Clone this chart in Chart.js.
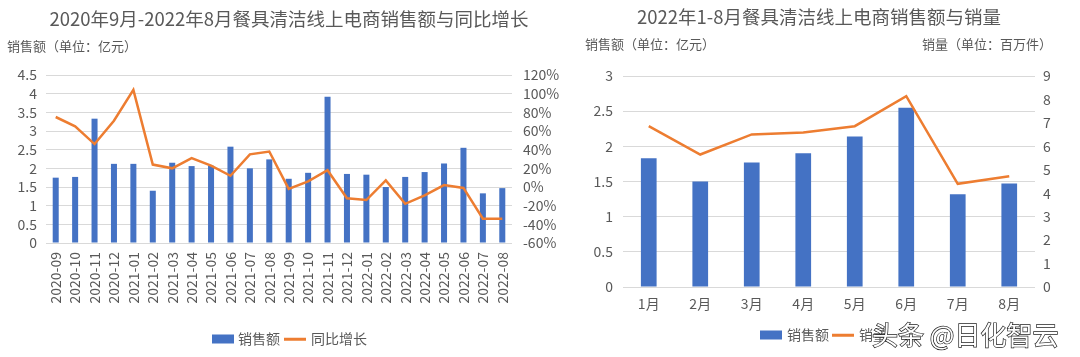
<!DOCTYPE html>
<html>
<head>
<meta charset="utf-8">
<script src="https://cdn.jsdelivr.net/npm/chart.js@4.4.1/dist/chart.umd.min.js"></script>
<style>
  html, body { margin:0; padding:0; background:#fff; }
  body { width:1080px; height:357px; overflow:hidden; position:relative;
         font-family:'Noto Sans CJK SC','Microsoft YaHei',sans-serif; color:#595959; }
  .abs { position:absolute; white-space:nowrap; }
  .title { font-size:18.5px; transform:translate(-50%,-50%); }
  .axt { font-size:13px; transform:translateY(-50%); }
  .leg { font-size:14px; transform:translateY(-50%); }
  .box { position:absolute; width:22px; height:9px; background:#4472C4; transform:translateY(-50%); }
  .ln { position:absolute; width:22px; height:2.5px; background:#ED7D31; transform:translateY(-50%); }
  .wm { font-size:26px; color:#fff; -webkit-text-stroke:1.4px #222; paint-order:stroke fill; transform:translateY(-50%); }
</style>
</head>
<body>
<div class="abs" style="left:0;top:0;width:560px;height:357px;"><canvas id="c1" width="560" height="357"></canvas></div>
<div class="abs" style="left:560px;top:0;width:520px;height:357px;"><canvas id="c2" width="520" height="357"></canvas></div>

<div class="abs title" style="left:289px;top:18px;">2020年9月-2022年8月餐具清洁线上电商销售额与同比增长</div>
<div class="abs axt" style="left:7px;top:45px;">销售额（单位：亿元）</div>
<div class="box" style="left:212px;top:339px;"></div>
<div class="abs leg" style="left:238px;top:338px;">销售额</div>
<div class="ln" style="left:284px;top:339px;"></div>
<div class="abs leg" style="left:311px;top:338px;">同比增长</div>

<div class="abs title" style="left:819px;top:16px;">2022年1-8月餐具清洁线上电商销售额与销量</div>
<div class="abs axt" style="left:585px;top:43px;">销售额（单位：亿元）</div>
<div class="abs axt" style="left:922px;top:43px;">销量（单位：百万件）</div>
<div class="box" style="left:760px;top:335px;"></div>
<div class="abs leg" style="left:787px;top:334px;">销售额</div>
<div class="ln" style="left:832px;top:335px;"></div>
<div class="abs leg" style="left:859px;top:334px;">销量</div>
<div class="abs wm" style="left:872px;top:333px;">头条 @日化智云</div>

<script>
// ---- data ----
const months1 = ['2020-09','2020-10','2020-11','2020-12','2021-01','2021-02','2021-03','2021-04','2021-05','2021-06','2021-07','2021-08','2021-09','2021-10','2021-11','2021-12','2022-01','2022-02','2022-03','2022-04','2022-05','2022-06','2022-07','2022-08'];
const sales1 = [1.75,1.77,3.33,2.12,2.12,1.40,2.15,2.06,2.07,2.58,2.00,2.24,1.72,1.88,3.92,1.85,1.83,1.50,1.77,1.90,2.13,2.55,1.33,1.47];
const growth1 = [75,65,46,71,104,24,20,31,23,12,35,38,-2,6,18,-12,-14,7,-18,-9,2,-1,-34,-34];

const months2 = ['1月','2月','3月','4月','5月','6月','7月','8月'];
const sales2 = [1.83,1.50,1.77,1.90,2.14,2.55,1.32,1.47];
const volume2 = [6.86,5.65,6.51,6.59,6.86,8.14,4.40,4.72];

const BLUE = '#4472C4', ORANGE = '#ED7D31', GRID = '#d9d9d9', TXT = '#595959';
Chart.defaults.font.family = "'Noto Sans CJK SC','Microsoft YaHei',sans-serif";
Chart.defaults.font.size = 14;
Chart.defaults.color = TXT;
Chart.defaults.animation = false;
const fmt = (v) => String(Number(v.toFixed(2)));

new Chart(document.getElementById('c1'), {
  type: 'bar',
  data: {
    labels: months1,
    datasets: [
      { type:'bar', label:'销售额', data: sales1, backgroundColor: BLUE, yAxisID:'y', order:1,
        categoryPercentage:1, barPercentage:0.31 },
      { type:'line', label:'同比增长', data: growth1, borderColor: ORANGE, borderWidth:2.5,
        pointRadius:0, tension:0, yAxisID:'y1', order:0 }
    ]
  },
  options: {
    responsive:false,
    layout:{ padding:{ left:0, right:0, top:75, bottom:44 } },
    plugins:{ legend:{ display:false }, tooltip:{ enabled:false } },
    scales:{
      x:{ grid:{ display:false, drawTicks:false }, border:{ display:false },
          ticks:{ autoSkip:false, minRotation:90, maxRotation:90, padding:9 },
          afterFit:(s)=>{ s.height = 70; } },
      y:{ position:'left', min:0, max:4.5, border:{ display:false },
          grid:{ color:GRID, drawTicks:false },
          ticks:{ stepSize:0.5, autoSkip:false, padding:9, callback:fmt },
          afterFit:(s)=>{ s.width = 46; } },
      y1:{ position:'right', min:-60, max:120, border:{ display:false },
          grid:{ drawOnChartArea:false, drawTicks:false },
          ticks:{ stepSize:20, autoSkip:false, padding:11, callback:(v)=> v + '%' },
          afterFit:(s)=>{ s.width = 48; } }
    }
  }
});

new Chart(document.getElementById('c2'), {
  type: 'bar',
  data: {
    labels: months2,
    datasets: [
      { type:'bar', label:'销售额', data: sales2, backgroundColor: BLUE, yAxisID:'y', order:1,
        categoryPercentage:1, barPercentage:0.305 },
      { type:'line', label:'销量', data: volume2, borderColor: ORANGE, borderWidth:2.5,
        pointRadius:0, tension:0, yAxisID:'y1', order:0 }
    ]
  },
  options: {
    responsive:false,
    layout:{ padding:{ left:0, right:0, top:76, bottom:40 } },
    plugins:{ legend:{ display:false }, tooltip:{ enabled:false } },
    scales:{
      x:{ grid:{ display:false, drawTicks:false }, border:{ display:false },
          ticks:{ autoSkip:false, maxRotation:0, padding:8 },
          afterFit:(s)=>{ s.height = 30; } },
      y:{ position:'left', min:0, max:3, border:{ display:false },
          grid:{ color:GRID, drawTicks:false },
          ticks:{ stepSize:0.5, autoSkip:false, padding:10, callback:fmt },
          afterFit:(s)=>{ s.width = 63; } },
      y1:{ position:'right', min:0, max:9, border:{ display:false },
          grid:{ drawOnChartArea:false, drawTicks:false },
          ticks:{ stepSize:1, autoSkip:false, padding:8 },
          afterFit:(s)=>{ s.width = 45; } }
    }
  }
});
</script>
</body>
</html>
